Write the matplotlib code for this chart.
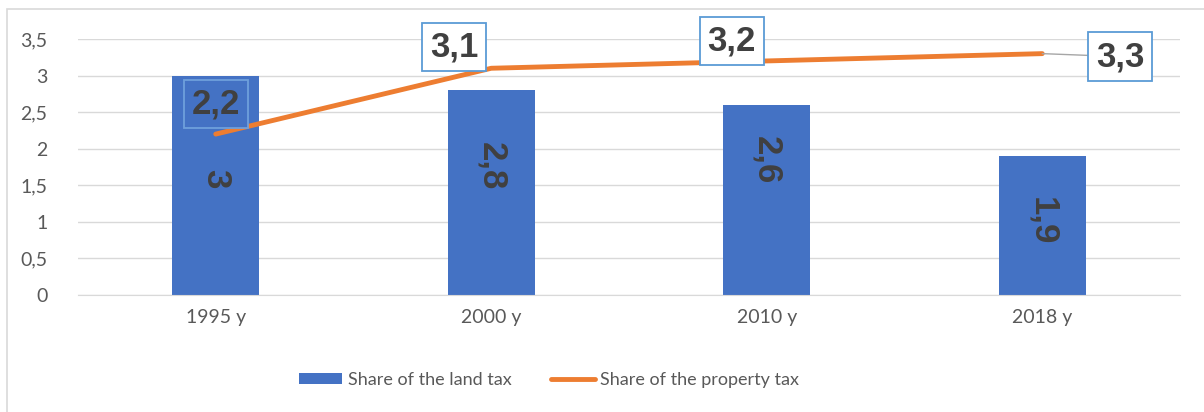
import matplotlib.pyplot as plt
from matplotlib.ticker import FuncFormatter
from matplotlib.patches import Rectangle

# data
years = ['1995 y', '2000 y', '2010 y', '2018 y']
land_tax = [3, 2.8, 2.6, 1.9]
property_tax = [2.2, 3.1, 3.2, 3.3]

# label placement (pixel offsets), styling only
bar_label_offsets = [7, 26, 40, 4]
line_label_offsets = [(0, 30), (-37, 21), (-35, 20), (78, -3)]

blue = '#4472C4'
orange = '#ED7D31'
text_dark = '#404040'

fig = plt.figure(figsize=(12.04, 4.12), dpi=100)
ax = fig.add_axes([78 / 1204, 1 - 295 / 412, 1102 / 1204, 256 / 412])

# chart border
fig.patches.append(Rectangle((7 / 1204, -0.1), 1.2, 1 - 9 / 412 + 0.1, transform=fig.transFigure,
                             fill=False, edgecolor='#D9D9D9', linewidth=1.2))

x = list(range(len(years)))
bars = ax.bar(x, land_tax, width=0.316, color=blue, label='Share of the land tax', zorder=2)
line, = ax.plot(x, property_tax, color=orange, linewidth=3.5, solid_capstyle='round',
                label='Share of the property tax', zorder=3)

# bar labels, rotated
for i, v in enumerate(land_tax):
    ax.annotate(str(v).replace('.', ','), xy=(i, v / 2), xytext=(0, bar_label_offsets[i]),
                textcoords='offset pixels', ha='center', va='center', rotation=270,
                fontsize=25, fontweight='bold', color=text_dark,
                family='Liberation Sans', zorder=4)

# line labels in boxes
for i, v in enumerate(property_tax):
    dx, dy = line_label_offsets[i]
    face = blue if i == 0 else 'white'
    edge = '#6FA0DC' if i == 0 else '#5B9BD5'
    kw = {}
    if i == len(property_tax) - 1:
        kw['arrowprops'] = dict(arrowstyle='-', color='#A6A6A6', lw=1, shrinkA=0, shrinkB=0)
    ax.annotate(str(v).replace('.', ','), xy=(i, v), xytext=(dx, dy),
                textcoords='offset pixels', ha='center', va='center',
                fontsize=25, fontweight='bold', color=text_dark, family='Liberation Sans',
                bbox=dict(boxstyle='square,pad=0.22', facecolor=face, edgecolor=edge, linewidth=1.3),
                zorder=5, **kw)

ax.set_xlim(-0.5, 3.5)
ax.set_ylim(0, 3.5)
ax.set_yticks([0, 0.5, 1, 1.5, 2, 2.5, 3, 3.5])
ax.yaxis.set_major_formatter(FuncFormatter(lambda v, p: ('%g' % v).replace('.', ',')))
ax.set_xticks(x)
ax.set_xticklabels(years)
ax.tick_params(length=0, labelsize=14, colors='#595959', pad=10)
for lab in ax.get_xticklabels() + ax.get_yticklabels():
    lab.set_family('Lato')
ax.tick_params(axis='y', pad=22)
ax.grid(axis='y', color='#D9D9D9', linewidth=1, zorder=0)
ax.set_axisbelow(True)
for s in ax.spines.values():
    s.set_visible(False)
ax.spines['bottom'].set_visible(True)
ax.spines['bottom'].set_color('#D9D9D9')

leg = fig.legend([bars, line], ['Share of the land tax', 'Share of the property tax'],
                 loc='center', bbox_to_anchor=(549 / 1204, 1 - 380 / 412), ncol=2, frameon=False,
                 prop={'family': 'Lato', 'size': 13}, handlelength=2.4, handleheight=0.5,
                 handletextpad=0.3, columnspacing=2.2)
for t in leg.get_texts():
    t.set_color('#595959')

fig.savefig('out.png', dpi=100)
